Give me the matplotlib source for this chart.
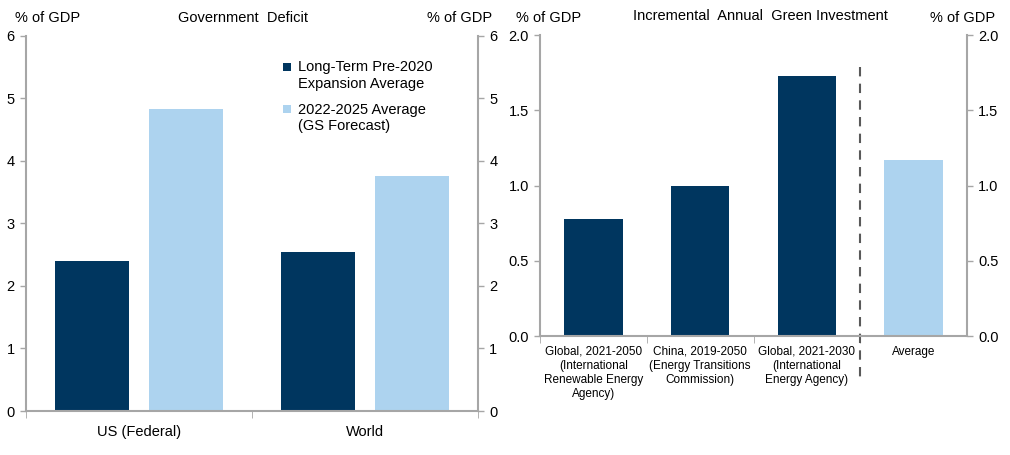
import numpy as np
import matplotlib.pyplot as plt
import matplotlib.patches as mpatches
from matplotlib.container import BarContainer
from matplotlib.legend_handler import HandlerPatch

plt.rcParams['font.family'] = ['Liberation Sans', 'DejaVu Sans']

# left panel: government deficit
deficit_regions = ['US (Federal)', 'World']
deficit_pre2020 = [2.4, 2.54]
deficit_forecast = [4.83, 3.76]
deficit_series = ['Long-Term Pre-2020\nExpansion Average', '2022-2025 Average\n(GS Forecast)']

# right panel: incremental annual green investment
green_labels = ['Global, 2021-2050\n(International\nRenewable Energy\nAgency)',
                'China, 2019-2050\n(Energy Transitions\nCommission)',
                'Global, 2021-2030\n(International\nEnergy Agency)',
                'Average']
green_values = [0.78, 1.0, 1.73, 1.17]

DARK = '#00365f'
LIGHT = '#add3ef'
GREY = '#a6a6a6'


def style_axes(ax):
    ax.spines['top'].set_visible(False)
    for side in ['left', 'right', 'bottom']:
        ax.spines[side].set_color(GREY)
        ax.spines[side].set_linewidth(1.5)
    ax.tick_params(axis='y', left=True, right=True, labelleft=True, labelright=True,
                   direction='out', color=GREY, length=4, width=1, labelsize=10.5, pad=4)


def top_square(legend, orig_handle, xdescent, ydescent, width, height, fontsize):
    # small square aligned with the first line of a two-line label
    s = 0.55 * fontsize
    return mpatches.Rectangle((-xdescent, -ydescent + height - s + 0.1 * fontsize), s, s)


def from_first_bar(handle, orig):
    handle.update_from(orig.patches[0])


fig = plt.figure(figsize=(10.1, 4.55), dpi=100)

# ---- left panel
ax1 = fig.add_axes([0.0257, 0.0967, 0.4476, 0.8242])
x = np.arange(len(deficit_regions))
w = 0.327
off = (w + 0.088) / 2
ax1.bar(x - off, deficit_pre2020, w, color=DARK, label=deficit_series[0])
ax1.bar(x + off, deficit_forecast, w, color=LIGHT, label=deficit_series[1])
ax1.set_xlim(-0.5, len(deficit_regions) - 0.5)
ax1.set_ylim(0, 6)
ax1.set_yticks(range(0, 7))
style_axes(ax1)
ax1.set_xticks(x)
ax1.set_xticklabels(deficit_regions, fontsize=10.5)
ax1.tick_params(axis='x', length=0, pad=10)
ax1.set_xticks(np.arange(len(deficit_regions) + 1) - 0.5, minor=True)
ax1.tick_params(axis='x', which='minor', length=5, color=GREY, direction='out')
ax1.legend(loc='upper left', bbox_to_anchor=(0.54, 0.97), frameon=False,
           fontsize=10.5, handlelength=0.6, handleheight=2.2, handletextpad=0.4,
           labelspacing=0.85,
           handler_map={BarContainer: HandlerPatch(patch_func=top_square,
                                                   update_func=from_first_bar)})

fig.text(0.015, 0.96, '% of GDP', fontsize=10.5, va='center')
fig.text(0.241, 0.96, 'Government  Deficit', fontsize=10.5, va='center', ha='center')
fig.text(0.423, 0.96, '% of GDP', fontsize=10.5, va='center')

# ---- right panel
ax2 = fig.add_axes([0.5347, 0.2615, 0.4227, 0.6615])
xg = np.arange(len(green_values))
colors = [DARK] * (len(green_values) - 1) + [LIGHT]
ax2.bar(xg, green_values, 0.55, color=colors)
ax2.set_xlim(-0.5, len(green_values) - 0.5)
ax2.set_ylim(0, 2)
ax2.set_yticks(np.arange(0, 2.01, 0.5))
ax2.set_yticklabels(['%.1f' % v for v in np.arange(0, 2.01, 0.5)])
style_axes(ax2)
ax2.set_xticks(xg)
ax2.set_xticklabels(green_labels, fontsize=8.5, linespacing=1.22)
ax2.tick_params(axis='x', length=0, pad=7)
ax2.set_xticks(np.arange(len(green_values)) - 0.5, minor=True)
ax2.tick_params(axis='x', which='minor', length=5, color=GREY, direction='out')
sep = len(green_values) - 1.5
ax2.plot([sep, sep], [1.79, -0.31], color='#595959', lw=1.5, ls=(0, (4.5, 3.5)), clip_on=False)

fig.text(0.511, 0.96, '% of GDP', fontsize=10.5, va='center')
fig.text(0.753, 0.964, 'Incremental  Annual  Green Investment', fontsize=10.5, va='center', ha='center')
fig.text(0.921, 0.96, '% of GDP', fontsize=10.5, va='center')

fig.savefig('out.png', dpi=100)
